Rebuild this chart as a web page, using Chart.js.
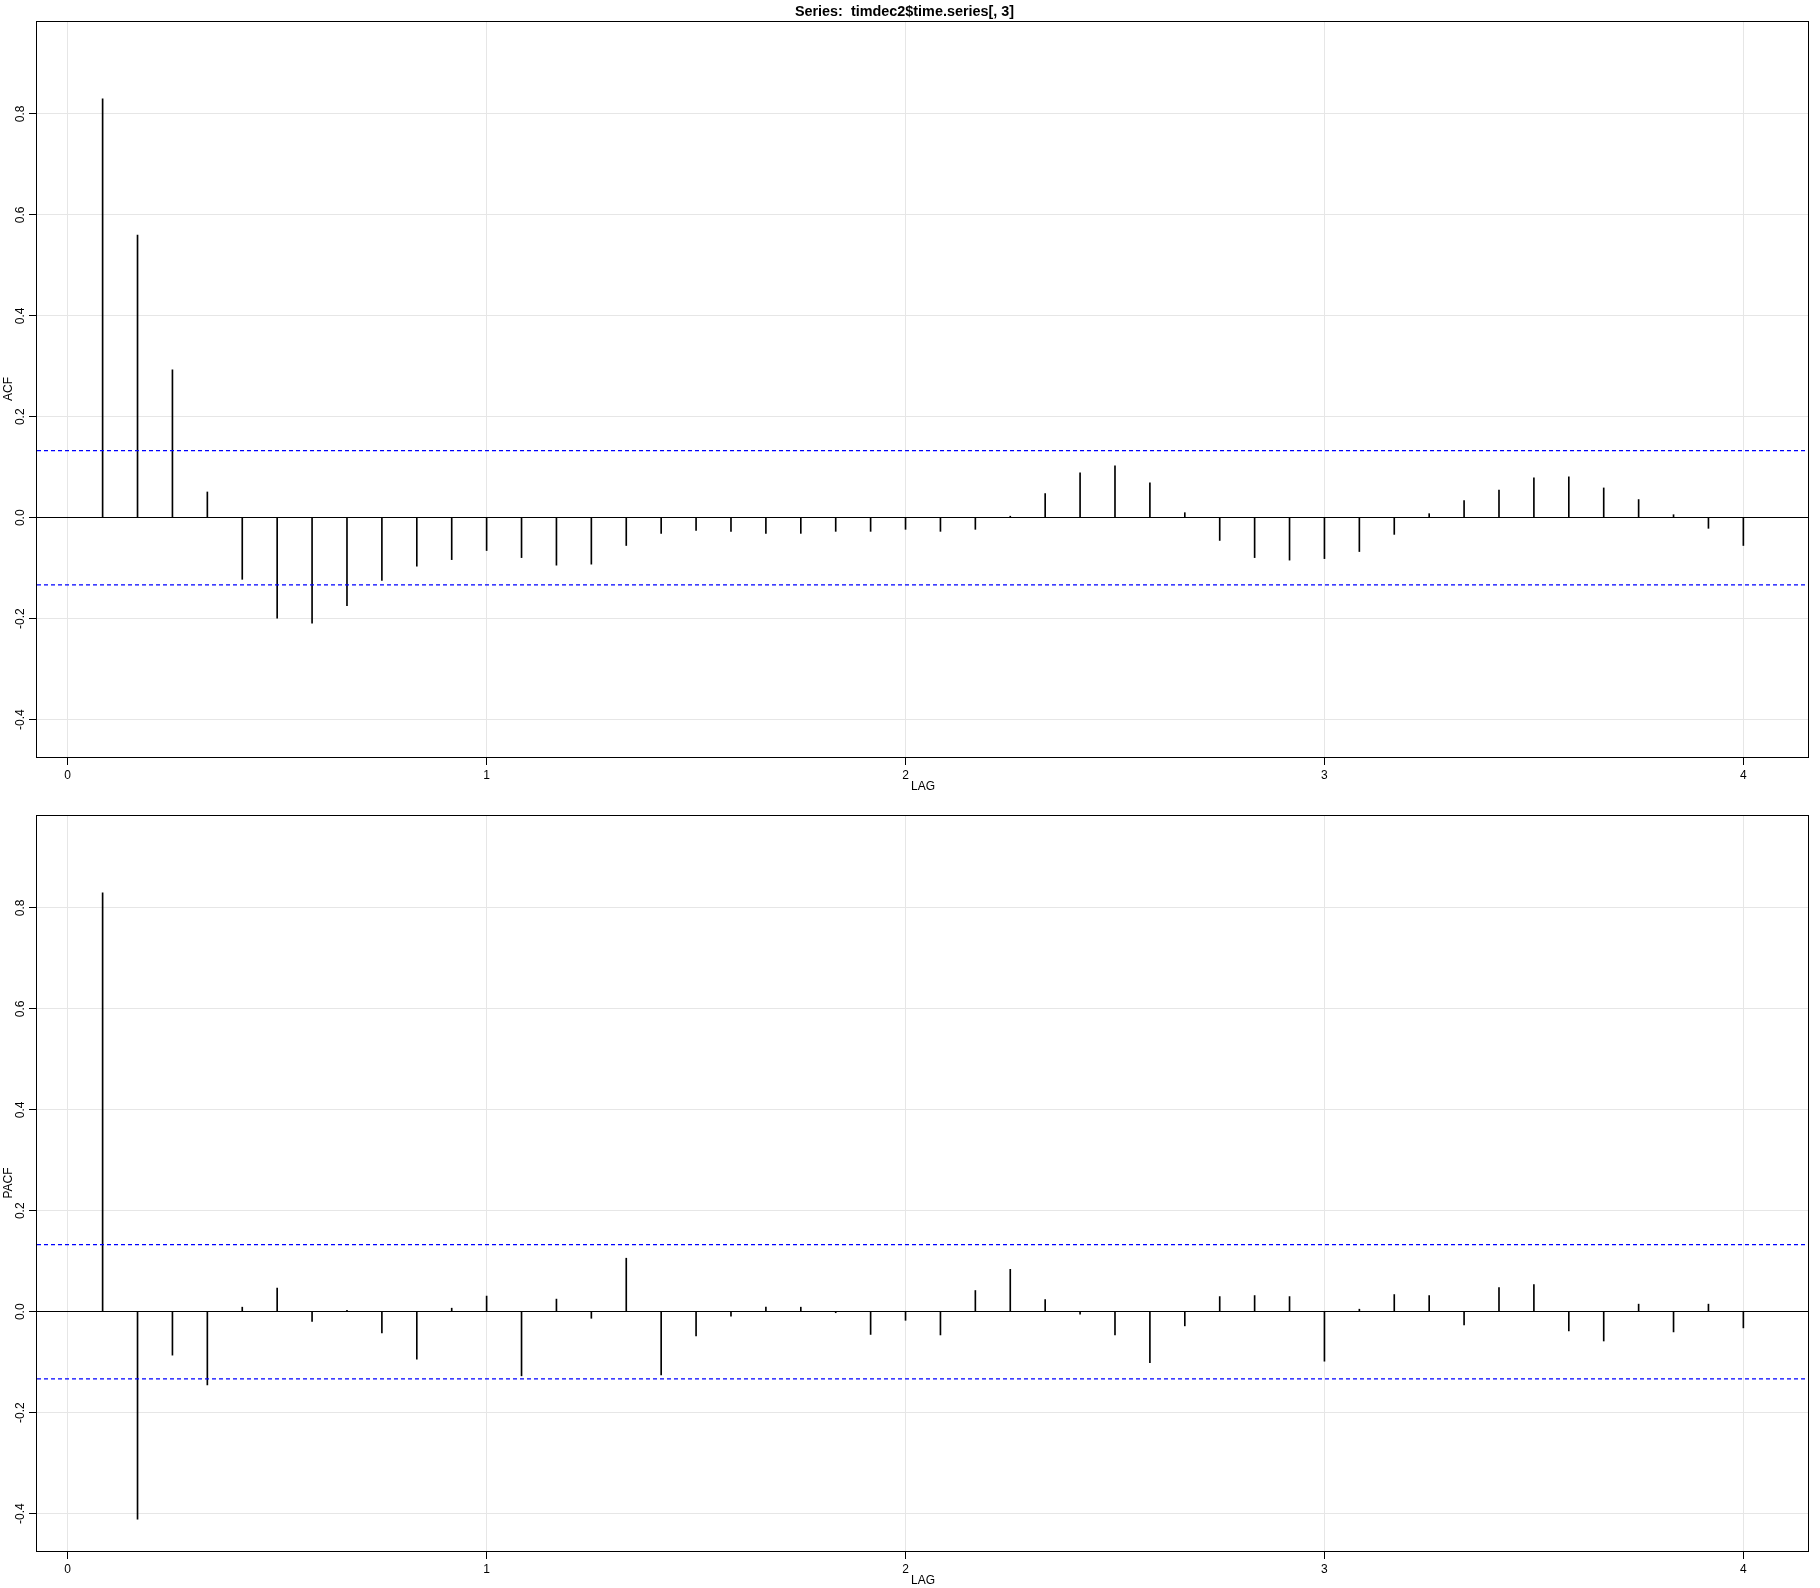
<!DOCTYPE html>
<html>
<head>
<meta charset="utf-8">
<title>ACF / PACF</title>
<script src="https://cdn.jsdelivr.net/npm/chart.js@4.4.0/dist/chart.umd.min.js"></script>
<style>
  html, body { margin: 0; padding: 0; background: #fff; }
  canvas { display: block; }
</style>
</head>
<body>
<canvas id="acfChart" width="1820" height="794"></canvas>
<canvas id="pacfChart" width="1820" height="794"></canvas>
<script>
// lags in months, shown on the axis in years
const lagMonths = [1, 2, 3, 4, 5, 6, 7, 8, 9, 10, 11, 12,
    13, 14, 15, 16, 17, 18, 19, 20, 21, 22, 23, 24,
    25, 26, 27, 28, 29, 30, 31, 32, 33, 34, 35, 36,
    37, 38, 39, 40, 41, 42, 43, 44, 45, 46, 47, 48];
const frequency = 12;

const acfValues = [0.830, 0.560, 0.293, 0.051, -0.122, -0.199, -0.209, -0.174, -0.124, -0.096, -0.083, -0.065,
    -0.079, -0.094, -0.092, -0.055, -0.031, -0.025, -0.027, -0.031, -0.031, -0.027, -0.027, -0.023,
    -0.027, -0.023, 0.003, 0.048, 0.089, 0.103, 0.069, 0.010, -0.045, -0.079, -0.084, -0.081,
    -0.067, -0.033, 0.008, 0.034, 0.055, 0.079, 0.081, 0.059, 0.036, 0.006, -0.021, -0.055];

const pacfValues = [0.830, -0.411, -0.086, -0.145, 0.009, 0.047, -0.019, 0.003, -0.042, -0.094, 0.007, 0.031,
    -0.127, 0.025, -0.013, 0.106, -0.125, -0.048, -0.009, 0.009, 0.009, -0.002, -0.045, -0.017,
    -0.046, 0.042, 0.084, 0.024, -0.005, -0.046, -0.101, -0.028, 0.030, 0.032, 0.030, -0.098,
    0.005, 0.034, 0.032, -0.026, 0.048, 0.054, -0.038, -0.058, 0.015, -0.040, 0.015, -0.032];

const ciBound = 0.133;
const lagRange = [-0.0733, 4.1567];
const valueRange = [-0.474, 0.984];
const seriesTitle = 'Series:  timdec2$time.series[, 3]';

Chart.defaults.font.family = "'Liberation Sans', Arial, sans-serif";
Chart.defaults.font.size = 12;
Chart.defaults.color = '#000';

// box round the plot + rotated y tick labels (R style)
const framePlugin = {
    id: 'frame',
    afterDraw(chart) {
        const ctx = chart.ctx;
        const a = chart.chartArea;
        const y = chart.scales.y;
        ctx.save();
        ctx.strokeStyle = '#000';
        ctx.lineWidth = 1;
        ctx.strokeRect(a.left - 0.5, a.top + 0.5, a.right - a.left, a.bottom - a.top);

        ctx.font = "12px 'Liberation Sans', Arial, sans-serif";
        ctx.fillStyle = '#000';
        ctx.textAlign = 'center';
        ctx.textBaseline = 'middle';
        y.ticks.forEach(function(t) {
            const v = Math.abs(t.value) < 1e-9 ? 0 : t.value;
            ctx.save();
            ctx.translate(21, y.getPixelForValue(t.value));
            ctx.rotate(-Math.PI / 2);
            ctx.fillText(v.toFixed(1), 0, 0);
            ctx.restore();
        });
        ctx.restore();
    }
};

function makeChart(id, values, yTitle, withTitle) {
    const ctx = document.getElementById(id).getContext('2d');
    return new Chart(ctx, {
        type: 'bar',
        data: {
            datasets: [{
                label: yTitle,
                data: lagMonths.map((m, i) => ({ x: m / frequency, y: values[i] })),
                backgroundColor: '#000',
                borderWidth: 0,
                barThickness: 1,
                order: 2
            }, {
                type: 'line',
                label: 'upper',
                data: [{ x: lagRange[0], y: ciBound }, { x: lagRange[1], y: ciBound }],
                borderColor: '#0000ff',
                borderWidth: 1.2,
                borderDash: [4, 3],
                pointRadius: 0,
                order: 1
            }, {
                type: 'line',
                label: 'lower',
                data: [{ x: lagRange[0], y: -ciBound }, { x: lagRange[1], y: -ciBound }],
                borderColor: '#0000ff',
                borderWidth: 1.2,
                borderDash: [4, 3],
                pointRadius: 0,
                order: 1
            }]
        },
        options: {
            responsive: false,
            animation: false,
            layout: {
                padding: { top: withTitle ? 0 : 21, right: 11, bottom: 0, left: 0 }
            },
            scales: {
                x: {
                    type: 'linear',
                    min: lagRange[0],
                    max: lagRange[1],
                    offset: false,
                    grid: {
                        offset: false,
                        color: '#e6e6e6',
                        tickColor: '#000',
                        tickLength: 8
                    },
                    border: { display: false },
                    ticks: {
                        stepSize: 1,
                        includeBounds: false,
                        padding: 3,
                        maxRotation: 0,
                        callback: v => String(v)
                    },
                    title: {
                        display: true,
                        text: 'LAG',
                        padding: { top: 0, bottom: 0 }
                    },
                    afterFit: s => { s.height = 37; }
                },
                y: {
                    min: valueRange[0],
                    max: valueRange[1],
                    grid: {
                        color: c => (c.tick && Math.abs(c.tick.value) < 1e-9) ? '#000' : '#e6e6e6',
                        tickColor: '#000',
                        tickLength: 8
                    },
                    border: { display: false },
                    ticks: {
                        stepSize: 0.2,
                        includeBounds: false,
                        display: false
                    },
                    title: {
                        display: true,
                        text: yTitle,
                        padding: { top: 1, bottom: 0 }
                    },
                    afterFit: s => { s.width = 37; }
                }
            },
            plugins: {
                legend: { display: false },
                tooltip: { enabled: false },
                title: {
                    display: withTitle,
                    text: seriesTitle,
                    font: { size: 14.4, weight: 'bold' },
                    color: '#000',
                    padding: { top: 3, bottom: 0.72 }
                }
            }
        },
        plugins: [framePlugin]
    });
}

makeChart('acfChart', acfValues, 'ACF', true);
makeChart('pacfChart', pacfValues, 'PACF', false);
</script>
</body>
</html>
